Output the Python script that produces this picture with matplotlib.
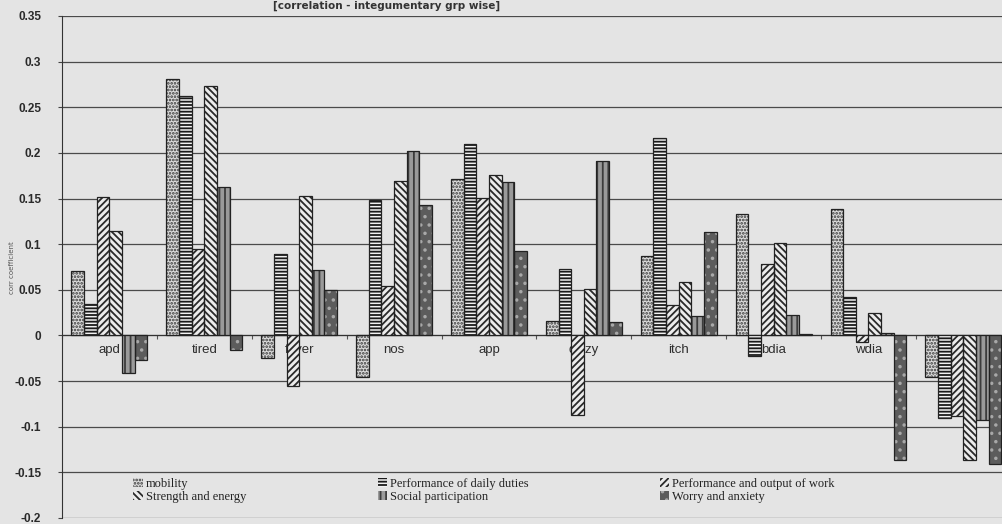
import matplotlib
matplotlib.use('Agg')
import matplotlib.pyplot as plt
import numpy as np

# symptom groups and correlation coefficients per quality-of-life domain
categories = ['apd', 'tired', 'fever', 'nos', 'app', 'dizzy', 'itch', 'bdia', 'wdia', 'vom']
mobility = [0.071, 0.281, -0.025, -0.046, 0.171, 0.016, 0.087, 0.133, 0.139, -0.045]
daily_duties = [0.034, 0.262, 0.089, 0.148, 0.210, 0.073, 0.216, -0.022, 0.042, -0.090]
work_output = [0.152, 0.095, -0.055, 0.054, 0.151, -0.087, 0.033, 0.078, -0.007, -0.088]
strength = [0.114, 0.273, 0.153, 0.169, 0.176, 0.051, 0.058, 0.101, 0.025, -0.137]
social = [-0.041, 0.163, 0.072, 0.202, 0.168, 0.191, 0.021, 0.022, 0.003, -0.093]
worry = [-0.027, -0.016, 0.050, 0.143, 0.092, 0.015, 0.113, 0.002, -0.137, -0.141]

series_names = ['mobility', 'Performance of daily duties', 'Performance and output of work',
                'Strength and energy', 'Social participation', 'Worry and anxiety']
yticks = [-0.2, -0.15, -0.1, -0.05, 0, 0.05, 0.1, 0.15, 0.2, 0.25, 0.3, 0.35]

paper = '#e4e4e4'
plt.rcParams['hatch.linewidth'] = 1.3

fig = plt.figure(figsize=(10.03, 5.24), dpi=100, facecolor=paper)
ax = fig.add_axes([0.0618, 0.0115, 0.946, 0.958], facecolor=paper)

x = np.arange(len(categories))
n = 6
w = 0.8 / n

styles = [
    dict(color='#dcdcdc', hatch='.....', edgecolor='#3a3a3a'),
    dict(color='#f2f2f2', hatch='-----', edgecolor='#1a1a1a'),
    dict(color='#ececec', hatch='/////', edgecolor='#2a2a2a'),
    dict(color='#ececec', hatch='\\\\\\\\\\', edgecolor='#2a2a2a'),
    dict(color='#9a9a9a', hatch='|||', edgecolor='#3c3c3c'),
    dict(color='#5c5c5c', hatch='..', edgecolor='#a8a8a8'),
]
data = [mobility, daily_duties, work_output, strength, social, worry]

handles = []
for i, (vals, st) in enumerate(zip(data, styles)):
    pos = x - 0.4 + w * (i + 0.5)
    b = ax.bar(pos, vals, width=w, facecolor=st['color'], hatch=st['hatch'],
               edgecolor=st['edgecolor'], linewidth=0, zorder=3, label=series_names[i])
    # dark outline on top of the hatch
    ax.bar(pos, vals, width=w, fill=False, edgecolor='#222222', linewidth=0.9, zorder=4)
    handles.append(b)

# category names sit under the bars, next to the zero line
for xi, name in zip(x, categories):
    ax.text(xi, -0.0155, name, ha='center', va='center', fontsize=9.5,
            family='Liberation Sans', color='#2e2e2e', zorder=1)

ax.set_xlim(-0.5, len(categories) - 0.5)
ax.set_ylim(-0.2, 0.35)
ax.set_yticks(yticks)
ax.set_yticklabels([f'{v:g}' for v in yticks], fontsize=8.5,
                   family='Liberation Sans', color='#2a2a2a', weight='bold')
ax.yaxis.grid(True, color='#4a4a4a', linewidth=0.9, zorder=0)
ax.set_axisbelow(True)
ax.tick_params(axis='y', length=3, color='#444444', pad=12)

ax.spines['bottom'].set_position(('data', 0))
ax.spines['bottom'].set_color('#333333')
ax.spines['left'].set_color('#333333')
ax.spines['top'].set_visible(False)
ax.spines['right'].set_visible(False)
ax.set_xticks(np.arange(len(categories) + 1) - 0.5)
ax.set_xticklabels([])
ax.tick_params(axis='x', length=3, color='#555555', direction='out')

fig.text(0.012, 0.49, 'corr coefficient', rotation=90, fontsize=5, color='#555555',
         ha='center', va='center')
fig.text(0.385, 0.999, '[correlation - integumentary grp wise]', fontsize=7.5,
         weight='bold', color='#333333', ha='center', va='top')

order = [0, 3, 1, 4, 2, 5]
leg = fig.legend([handles[i] for i in order], [series_names[i] for i in order],
                 ncol=3, loc='upper left', bbox_to_anchor=(0.128, 0.098),
                 frameon=False, prop={'family': 'Liberation Serif', 'size': 9},
                 handlelength=0.75, handleheight=0.75, handletextpad=0.25,
                 columnspacing=10.5, labelspacing=0.1, borderaxespad=0)
for t in leg.get_texts():
    t.set_color('#222222')

fig.savefig('out.png', dpi=100, facecolor=paper)
